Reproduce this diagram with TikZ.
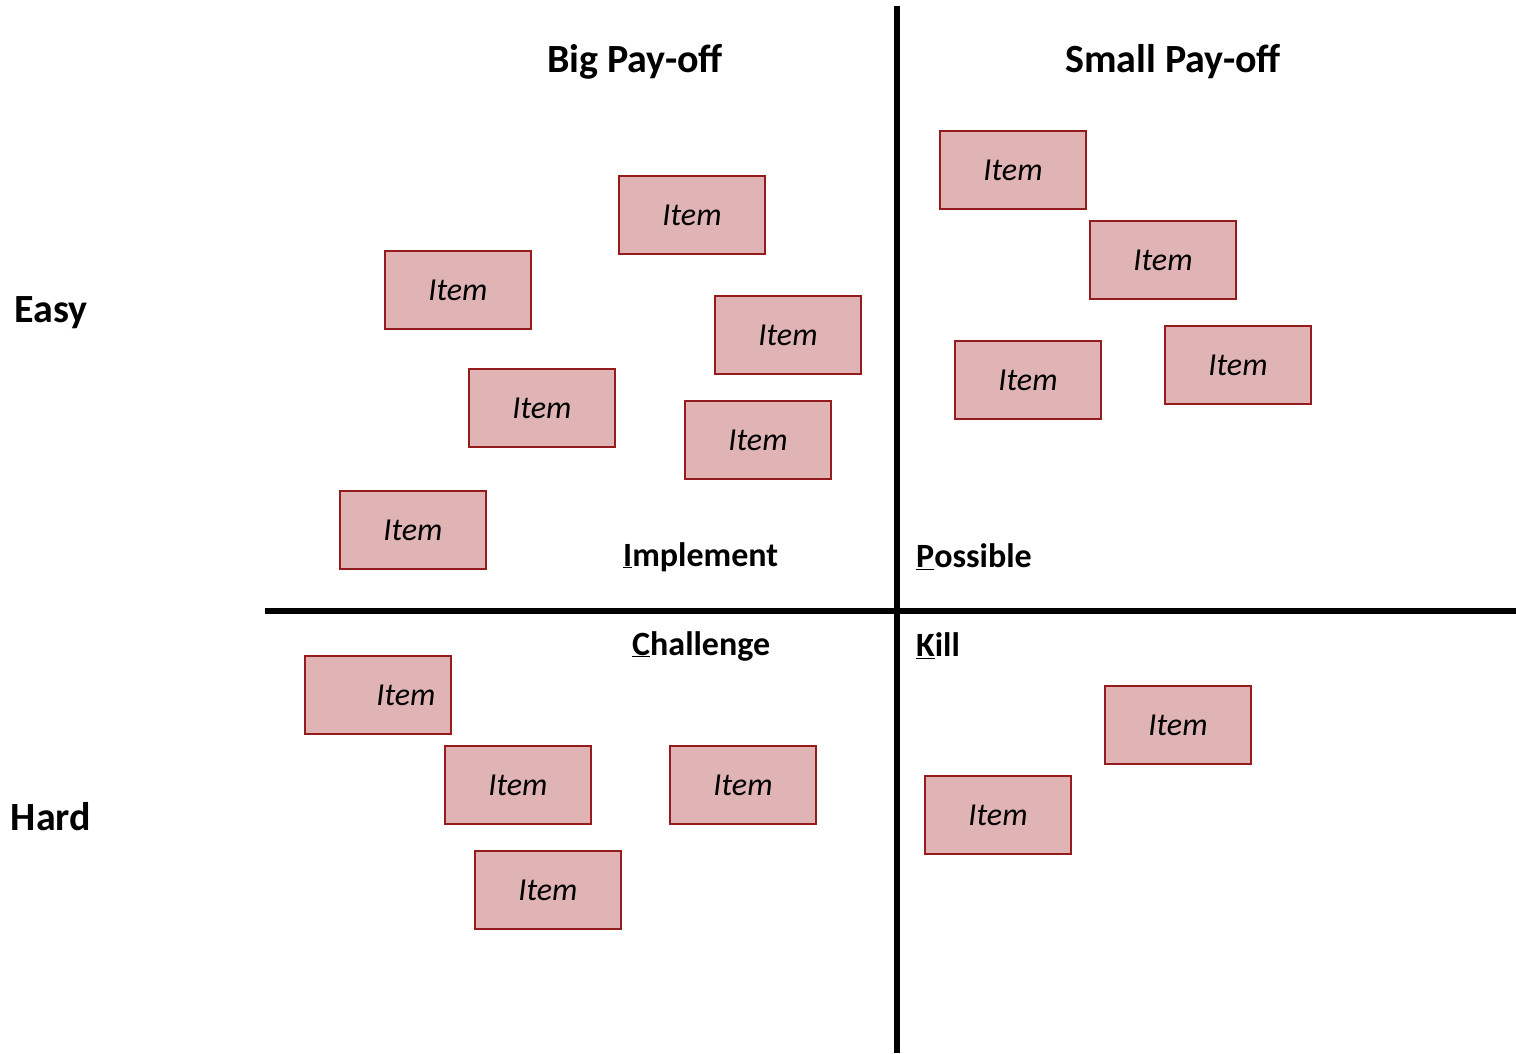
\documentclass[tikz,border=0pt]{standalone}
\usepackage{fontspec}
\setmainfont{Carlito}
\definecolor{boxfill}{HTML}{E0B4B4}
\definecolor{boxline}{HTML}{941C1C}
\begin{document}
\begin{tikzpicture}[x=1pt,y=-1pt,
  itembox/.style={draw=boxline,fill=boxfill,line width=2pt,minimum width=146pt,minimum height=78pt,inner sep=0pt,font=\fontsize{32}{38}\selectfont\itshape},
  head/.style={font=\fontsize{40}{46}\selectfont\bfseries},
  side/.style={font=\fontsize{40}{46}\selectfont\bfseries},
  quad/.style={font=\fontsize{34}{40}\selectfont\bfseries,anchor=west,inner sep=0pt},
  axis/.style={line width=6pt}]
\useasboundingbox (0,0) rectangle (1516,1053);
\fill[white] (0,0) rectangle (1516,1053);
% axes
\coordinate (vtop) at (897,6);
\coordinate (vbot) at (897,1053);
\coordinate (hl) at (265,611);
\coordinate (hr) at (1516,611);
\draw[axis] (vtop) -- (vbot);
\draw[axis] (hl) -- (hr);
% headings
\node[head] (big) at (635,62) {Big Pay-off};
\node[head] (small) at (1173,62) {Small Pay-off};
\node[side] (easy) at (51,313) {Easy};
\node[side] (hard) at (51,817) {Hard};
% quadrant labels
\node[quad] (impl) at (623,557) {\underline{I}mplement};
\node[quad] (poss) at (916,557) {\underline{P}ossible};
\node[quad] (chal) at (632,646) {\underline{C}hallenge};
\node[quad] (kill) at (916,646) {\underline{K}ill};
% items
\node[itembox] (i1) at (692,215) {Item};
\node[itembox] (i2) at (458,290) {Item};
\node[itembox] (i3) at (788,335) {Item};
\node[itembox] (i4) at (542,408) {Item};
\node[itembox] (i5) at (758,440) {Item};
\node[itembox] (i6) at (413,530) {Item};
\node[itembox] (i7) at (1013,170) {Item};
\node[itembox] (i8) at (1163,260) {Item};
\node[itembox] (i9) at (1028,380) {Item};
\node[itembox] (i10) at (1238,365) {Item};
\node[itembox] (i11) at (378,695) {};
\node[font=\fontsize{32}{38}\selectfont\itshape,inner sep=0pt] (t11) at (406,695) {Item};
\node[itembox] (i12) at (518,785) {Item};
\node[itembox] (i13) at (743,785) {Item};
\node[itembox] (i14) at (548,890) {Item};
\node[itembox] (i15) at (1178,725) {Item};
\node[itembox] (i16) at (998,815) {Item};
\end{tikzpicture}
\end{document}
